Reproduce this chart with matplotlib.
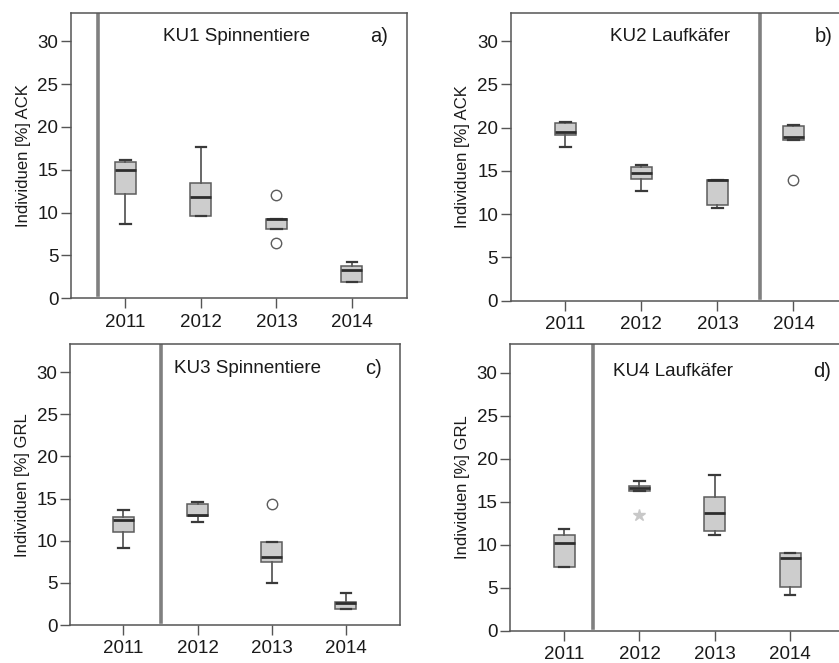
import matplotlib
matplotlib.use("Agg")
import matplotlib.pyplot as plt

plt.rcParams['font.family'] = ['Liberation Sans', 'DejaVu Sans']

years = ["2011", "2012", "2013", "2014"]

# Panel a) KU1 Spinnentiere (ACK)
a_whislo = [8.7, 9.6, 8.1, 1.9]
a_q1 = [12.2, 9.6, 8.1, 1.9]
a_med = [15.0, 11.8, 9.2, 3.3]
a_q3 = [15.9, 13.45, 9.2, 3.8]
a_whishi = [16.2, 17.7, 9.2, 4.2]
a_fliers = [[], [], [12.1, 6.5], []]

# Panel b) KU2 Laufkäfer (ACK)
b_whislo = [17.8, 12.7, 10.7, 18.6]
b_q1 = [19.2, 14.1, 11.1, 18.6]
b_med = [19.5, 14.8, 13.9, 18.9]
b_q3 = [20.6, 15.5, 13.9, 20.2]
b_whishi = [20.7, 15.7, 14.0, 20.3]
b_fliers = [[], [], [], [13.9]]

# Panel c) KU3 Spinnentiere (GRL)
c_whislo = [9.1, 12.2, 4.95, 1.9]
c_q1 = [11.0, 12.95, 7.5, 1.9]
c_med = [12.4, 13.0, 8.1, 2.6]
c_q3 = [12.8, 14.4, 9.9, 2.7]
c_whishi = [13.7, 14.6, 9.9, 3.85]
c_fliers = [[], [], [14.4], []]

# Panel d) KU4 Laufkäfer (GRL)
d_whislo = [7.35, 16.3, 11.15, 4.15]
d_q1 = [7.4, 16.3, 11.6, 5.1]
d_med = [10.2, 16.6, 13.7, 8.4]
d_q3 = [11.1, 16.8, 15.6, 9.0]
d_whishi = [11.8, 17.4, 18.15, 9.0]
d_fliers = [[], [13.4], [], []]

EDGE = '#5c5c5c'
SPINE = '#555555'


def stats(whislo, q1, med, q3, whishi, fliers):
    return [dict(whislo=whislo[i], q1=q1[i], med=med[i], q3=q3[i],
                 whishi=whishi[i], fliers=fliers[i], label=years[i])
            for i in range(len(years))]


fig = plt.figure(figsize=(8.39, 6.63), dpi=100)

panels = [
    dict(pos=[71/839, 1-298.3/663, 336/839, 285.3/663],
         st=stats(a_whislo, a_q1, a_med, a_q3, a_whishi, a_fliers),
         vline=-0.36, ylab="Individuen [%] ACK", title="KU1 Spinnentiere",
         tx=1.47, ty=30.6, tag="a)", tagx=3.48, star=False),
    dict(pos=[510.7/839, 1-300.7/663, 338.2/839, 288/663],
         st=stats(b_whislo, b_q1, b_med, b_q3, b_whishi, b_fliers),
         vline=2.56, ylab="Individuen [%] ACK", title="KU2 Laufkäfer",
         tx=1.38, ty=30.5, tag="b)", tagx=3.52, star=False),
    dict(pos=[70/839, 1-625/663, 330/839, 280.7/663],
         st=stats(c_whislo, c_q1, c_med, c_q3, c_whishi, c_fliers),
         vline=0.51, ylab="Individuen [%] GRL", title="KU3 Spinnentiere",
         tx=1.68, ty=30.4, tag="c)", tagx=3.49, star=False),
    dict(pos=[510/839, 1-630.7/663, 335/839, 286.4/663],
         st=stats(d_whislo, d_q1, d_med, d_q3, d_whishi, d_fliers),
         vline=0.38, ylab="Individuen [%] GRL", title="KU4 Laufkäfer",
         tx=1.44, ty=30.1, tag="d)", tagx=3.55, star=True),
]

for p in panels:
    ax = fig.add_axes(p['pos'])
    if p['star']:
        fp = dict(marker='*', markerfacecolor='#c8c8c8', markeredgecolor='#c8c8c8',
                  markersize=9, linestyle='none')
    else:
        fp = dict(marker='o', markerfacecolor='white', markeredgecolor=EDGE,
                  markersize=7.5, markeredgewidth=1.0, linestyle='none')
    ax.bxp(p['st'], positions=range(len(years)), widths=0.28, patch_artist=True,
           showfliers=True,
           boxprops=dict(facecolor='#cdcdcd', edgecolor=EDGE, linewidth=1.1),
           medianprops=dict(color='#2e2e2e', linewidth=2.0),
           whiskerprops=dict(color=EDGE, linewidth=1.3),
           capprops=dict(color='#3a3a3a', linewidth=1.6),
           capwidths=0.14, flierprops=fp)
    ax.axvline(p['vline'], ymin=0.01, ymax=1, color='#808080', linewidth=2.6, zorder=1)
    ax.set_xlim(-0.72, 3.73)
    ax.set_ylim(0, 33.3)
    ax.set_yticks([0, 5, 10, 15, 20, 25, 30])
    ax.set_xticks(range(len(years)))
    ax.set_xticklabels(years)
    for s in ax.spines.values():
        s.set_color(SPINE)
        s.set_linewidth(1.1)
    ax.tick_params(axis='both', direction='out', length=7, width=1.0, color=SPINE,
                   labelsize=13.5, labelcolor='#1a1a1a', pad=2)
    ax.tick_params(axis='x', pad=4)
    ax.set_ylabel(p['ylab'], fontsize=12, color='#1a1a1a', labelpad=5)
    ax.text(p['tx'], p['ty'], p['title'], ha='center', va='center', fontsize=13.5,
            color='#1a1a1a')
    ax.text(p['tagx'], p['ty'], p['tag'], ha='right', va='center', fontsize=14.5,
            color='#1a1a1a')

fig.savefig("out.png", dpi=100)
